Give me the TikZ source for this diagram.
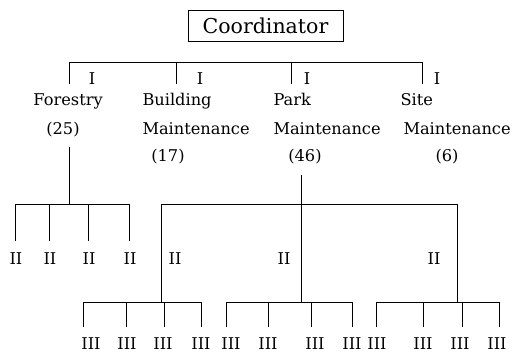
\documentclass[tikz,border=0pt]{standalone}
\usepackage{fontspec}
\setmainfont{DejaVu Serif}
\begin{document}
\begin{tikzpicture}[x=1pt,y=-1pt,line width=1pt,
  lbl/.style={font=\fontsize{16.2}{18}\selectfont, inner sep=0pt},
  box/.style={draw, line width=0.9pt, minimum width=155pt, minimum height=31pt, inner sep=0pt,
    font=\fontsize{20.5}{22}\selectfont}]
\useasboundingbox (0,0) rectangle (512,356);
% top
\node[box] (coord) at (265.5,25.5) {Coordinator};
\coordinate (tL) at (69,62);
\coordinate (tB) at (176,62);
\coordinate (tP) at (291,62);
\coordinate (tR) at (422,62);
\draw (tL) -- (tR);
\coordinate (dL) at (69,84);
\coordinate (dB) at (176,84);
\coordinate (dP) at (291,84);
\coordinate (dR) at (422,84);
\draw (tL) -- (dL) (tB) -- (dB) (tP) -- (dP) (tR) -- (dR);
\node[lbl] (i1) at (92,79) {I};
\node[lbl] (i2) at (200,79) {I};
\node[lbl] (i3) at (307,79) {I};
\node[lbl] (i4) at (437,79) {I};
% department labels
\node[lbl, anchor=base west] (for) at (33,105) {Forestry};
\node[lbl, anchor=base] (for-n) at (63,134) {(25)};
\node[lbl, anchor=base west] (bld) at (142,105) {Building};
\node[lbl, anchor=base west] (bld-m) at (142,134) {Maintenance};
\node[lbl, anchor=base] (bld-n) at (168,161) {(17)};
\node[lbl, anchor=base west] (prk) at (273,105) {Park};
\node[lbl, anchor=base west] (prk-m) at (273,134) {Maintenance};
\node[lbl, anchor=base] (prk-n) at (305,161) {(46)};
\node[lbl, anchor=base west] (sit) at (400,105) {Site};
\node[lbl, anchor=base west] (sit-m) at (403,134) {Maintenance};
\node[lbl, anchor=base] (sit-n) at (447,161) {(6)};
% forestry subtree
\coordinate (fa) at (69,147);
\coordinate (fb) at (69,204);
\draw (fa) -- (fb);
\coordinate (fl) at (15,204);
\coordinate (fr) at (129,204);
\draw (fl) -- (fr);
\foreach \x/\n in {15/1,49/2,88/3,129/4}{
  \coordinate (fs\n) at (\x,204);
  \coordinate (fe\n) at (\x,241);
  \draw (fs\n) -- (fe\n);
  \node[lbl] (fii\n) at (\x+1,259) {II};
}
% park subtree
\coordinate (pa) at (301,175);
\coordinate (pb) at (301,302);
\draw (pa) -- (pb);
\coordinate (pl) at (161,204);
\coordinate (pr) at (457,204);
\draw (pl) -- (pr);
\coordinate (pl2) at (161,302);
\coordinate (pr2) at (457,302);
\draw (pl) -- (pl2) (pr) -- (pr2);
\node[lbl] (pii1) at (175,259) {II};
\node[lbl] (pii2) at (284,259) {II};
\node[lbl] (pii3) at (434,259) {II};
% level III groups
\foreach \a/\b/\g in {83/201/1,226/352/2,376/499/3}{
  \coordinate (g\g l) at (\a,302);
  \coordinate (g\g r) at (\b,302);
  \draw (g\g l) -- (g\g r);
}
\foreach \x/\lx/\n in {83/91/1,126/127/2,164/163/3,201/201/4,
                       226/231/5,268/268/6,311/315/7,352/352/8,
                       376/377/9,423/423/10,462/460/11,499/497/12}{
  \coordinate (hs\n) at (\x,302);
  \coordinate (he\n) at (\x,327);
  \draw (hs\n) -- (he\n);
  \node[lbl] (iii\n) at (\lx,344) {III};
}
\end{tikzpicture}
\end{document}
